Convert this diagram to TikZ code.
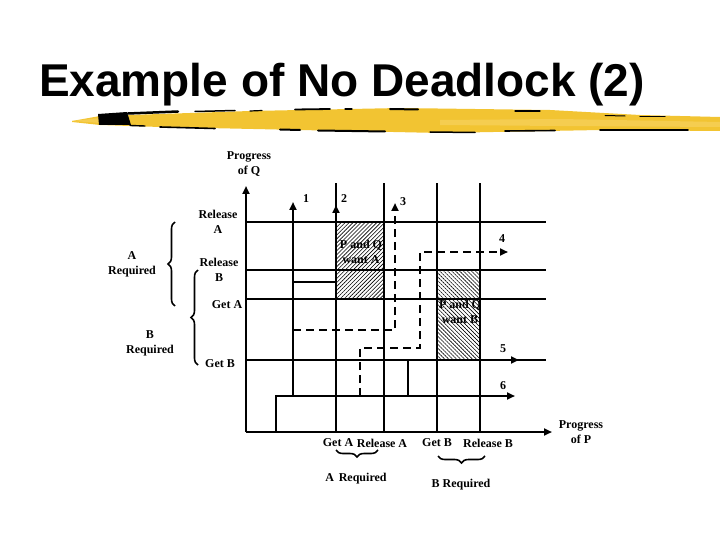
\documentclass[tikz,border=0pt]{standalone}
\usepackage{fontspec}
\setmainfont{Liberation Serif}
\newfontfamily\titlefont{Liberation Sans}
\usetikzlibrary{arrows.meta,decorations.pathreplacing,patterns.meta}
\definecolor{brush}{RGB}{242,196,50}
\definecolor{brushlight}{RGB}{245,205,80}
\begin{document}
\begin{tikzpicture}[x=1pt,y=-1pt,
  lbl/.style={font=\fontsize{12}{15}\selectfont\bfseries, align=center, inner sep=0pt},
  gridline/.style={line width=2.2pt},
  solidpath/.style={line width=2.8pt},
  dashpath/.style={line width=2.8pt, dash pattern=on 8pt off 5pt},
  arr/.style={-{Triangle[length=8pt,width=7pt]}},
  bracedeco/.style={decorate, decoration={brace, amplitude=7pt}, line width=1.6pt},
  streak/.style={draw=black, line cap=round}]
\useasboundingbox (0,0) rectangle (720,540);

% ---------- title ----------
\node[font=\titlefont\fontsize{46}{50}\selectfont\bfseries, anchor=base, inner sep=0pt] (title) at (342,97) {Example of No Deadlock (2)};

% ---------- brush stroke ----------
\fill[brush] (72,121) -- (100,116) -- (130,115) -- (250,111) -- (400,108) -- (550,110) -- (640,115) -- (720,117)
  -- (720,131) -- (600,130) -- (440,133) -- (300,130) -- (160,127) -- (100,125) -- (72,122) -- cycle;
\fill[brushlight] (72,121) -- (100,118) -- (100,123) -- cycle;
\fill[brushlight] (440,120) -- (560,119) -- (720,122) -- (720,127) -- (560,126) -- (440,125) -- cycle;
\fill[black] (98,114) -- (127,112) -- (131,125) -- (99,125) -- cycle;
\draw[streak, line width=2.5pt] (128,113.5) -- (178,111.5);
\draw[streak, line width=1.5pt] (195,111.5) -- (235,110.5);
\draw[streak, line width=1.2pt] (250,111) -- (262,110.5);
\draw[streak, line width=1.8pt] (295,109.5) -- (330,109);
\draw[streak, line width=1.2pt] (345,109) -- (352,109);
\draw[streak, line width=2pt] (390,109) -- (418,109.5);
\draw[streak, line width=1.2pt] (515,111) -- (540,111);
\draw[streak, line width=1pt] (605,115.5) -- (625,116);
\draw[streak, line width=1.4pt] (640,116.5) -- (665,116.5);
\draw[streak, line width=1.4pt] (130,125.5) -- (145,126);
\draw[streak, line width=1.6pt] (160,127) -- (215,128.5);
\draw[streak, line width=2pt] (280,129.5) -- (300,130);
\draw[streak, line width=2pt] (318,130.5) -- (385,131.5);
\draw[streak, line width=1.5pt] (430,132) -- (475,132.5);
\draw[streak, line width=1.6pt] (505,131) -- (555,130.5);
\draw[streak, line width=1.6pt] (600,130) -- (688,130);

% ---------- hatched regions ----------
\path[pattern={Lines[angle=45,distance=2.8pt,line width=0.6pt]}] (336,222) rectangle (384,299);
\path[pattern={Lines[angle=-45,distance=2.8pt,line width=0.6pt]}] (437,270) rectangle (480,360);

% ---------- grid ----------
\foreach \x [count=\i] in {336,384,437,480} {
  \coordinate (vb\i) at (\x,432);
  \coordinate (vt\i) at (\x,183);
  \draw[gridline] (vb\i) -- (vt\i);
}
\foreach \y [count=\i] in {222,270,299,360} {
  \coordinate (hl\i) at (246,\y);
  \coordinate (hr\i) at (546,\y);
  \draw[gridline] (hl\i) -- (hr\i);
}

% ---------- axes ----------
\coordinate (O) at (246,432);
\coordinate (Ytop) at (246,186);
\coordinate (Xend) at (552,432);
\draw[gridline, arr] (O) -- (Ytop);
\draw[gridline, arr] (O) -- (Xend);

% ---------- paths ----------
\coordinate (p6a) at (276,432);
\coordinate (p6b) at (276,396);
\coordinate (p6c) at (515,396);
\draw[solidpath, arr] (p6a) -- (p6b) -- (p6c);

\coordinate (p1a) at (293,396);
\coordinate (p1b) at (293,202);
\draw[solidpath, arr] (p1a) -- (p1b);

\coordinate (p2a) at (293,282);
\coordinate (p2b) at (336,282);
\coordinate (p2c) at (336,205);
\draw[solidpath, arr] (p2a) -- (p2b) -- (p2c);

\coordinate (p5a) at (408,396);
\coordinate (p5b) at (408,360);
\coordinate (p5c) at (519,360);
\draw[solidpath, arr] (p5a) -- (p5b) -- (p5c);

\coordinate (p3a) at (293,330);
\coordinate (p3b) at (395,330);
\coordinate (p3c) at (395,203);
\draw[dashpath, arr] (p3a) -- (p3b) -- (p3c);

\coordinate (p4a) at (360,396);
\coordinate (p4b) at (360,348);
\coordinate (p4c) at (420,348);
\coordinate (p4d) at (420,252);
\coordinate (p4e) at (508,252);
\draw[dashpath, arr] (p4a) -- (p4b) -- (p4c) -- (p4d) -- (p4e);

% ---------- path numbers ----------
\node[lbl] (n1) at (306,199) {1};
\node[lbl] (n2) at (344,199) {2};
\node[lbl] (n3) at (403,202) {3};
\node[lbl] (n4) at (502,239) {4};
\node[lbl] (n5) at (503,349) {5};
\node[lbl] (n6) at (503,386) {6};

% ---------- region labels ----------
\node[lbl] (wantA) at (361,252) {P and Q\\want A};
\node[lbl] (wantB) at (460,312) {P and Q\\want B};

% ---------- Q axis labels ----------
\node[lbl] (progQ) at (249,164) {Progress\\of Q};
\node[lbl] (relA) at (218,222) {Release\\A};
\node[lbl] (relB) at (219,270) {Release\\B};
\node[lbl] (getAq) at (227,305) {Get A};
\node[lbl] (getBq) at (220,364) {Get B};
\node[lbl] (reqAq) at (132,264) {A\\Required};
\node[lbl] (reqBq) at (150,343) {B\\Required};

\coordinate (bAq1) at (175,306);
\coordinate (bAq2) at (175,222);
\draw[bracedeco] (bAq1) -- (bAq2);
\coordinate (bBq1) at (198,365);
\coordinate (bBq2) at (198,270);
\draw[bracedeco] (bBq1) -- (bBq2);

% ---------- P axis labels ----------
\node[lbl] (getAp) at (338,443) {Get A};
\node[lbl] (relAp) at (382,443) {Release A};
\node[lbl] (getBp) at (437,443) {Get B};
\node[lbl] (relBp) at (488,443) {Release B};
\node[lbl] (progP) at (581,432) {Progress\\of P};
\node[lbl] (reqAp) at (356,479) {A\hspace{0.4em}Required};
\node[lbl] (reqBp) at (461,485) {B Required};

\coordinate (bAp1) at (378,450);
\coordinate (bAp2) at (336,450);
\draw[bracedeco] (bAp1) -- (bAp2);
\coordinate (bBp1) at (485,456);
\coordinate (bBp2) at (438,456);
\draw[bracedeco] (bBp1) -- (bBp2);
\end{tikzpicture}
\end{document}
